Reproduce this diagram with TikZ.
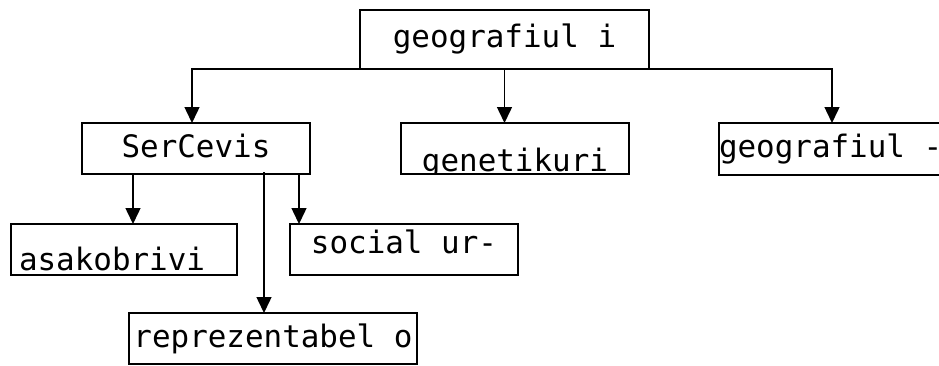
\documentclass[tikz,border=0pt]{standalone}
\usepackage{fontspec}
\newfontfamily\boxfont{DejaVu Sans Mono}
\usetikzlibrary{arrows.meta}
\begin{document}
\begin{tikzpicture}[x=1pt, y=1pt,
  every node/.style={font=\boxfont\fontsize{30.9}{34}\selectfont},
  box/.style={rectangle, draw=black, line width=1.5pt, outer sep=0pt, minimum width=228pt, minimum height=51pt, inner sep=0pt, text height=24.3pt, text depth=7.3pt},
  arr/.style={-{Triangle[width=15pt, length=16pt]}, line width=1.5pt}
]
\useasboundingbox (0,0) rectangle (939,365);

% Oberste Ebene
\node[box, minimum width=289pt, minimum height=59pt] (geo1) at (504.5,325.5) {geografiul i};

% Zweite Ebene
\node[box] (ser) at (196,216.5) {SerCevis};
\node[box, path picture={\node[box, draw=none] (gentxt) at (path picture bounding box.center) {\raisebox{-14pt}{genetikuri}};}] (gen) at (515,216.5) {};
\node[box, anchor=west, minimum width=0pt, minimum height=52pt] (geo2) at (719,216) {geografiul -};

% Dritte Ebene
\node[box, minimum width=226pt, text width=210pt, align=left] (asa) at (124,115.5) {\raisebox{-12pt}{asakobrivi}};
\node[box] (soc) at (404,115.5) {\raisebox{5pt}{social ur-}};
\node[box, minimum width=288pt] (rep) at (273,26.5) {reprezentabel o};

% Verbindungen
\draw[arr] (geo1.south) -| ([xshift=-4pt]ser.north);
\draw[arr] (geo1.south) -- (geo1.south |- gen.north);
\draw[arr] (geo1.south) -| ([xshift=113pt]geo2.north west);
\draw[arr] ([xshift=51pt]ser.south west) -- ([xshift=9pt]asa.north);
\draw[arr] ([xshift=-11pt]ser.south east) -- ([xshift=-105pt]soc.north);
\draw[arr] ([xshift=182pt, yshift=2pt]ser.south west) -- ([xshift=-9pt]rep.north);
\end{tikzpicture}
\end{document}
